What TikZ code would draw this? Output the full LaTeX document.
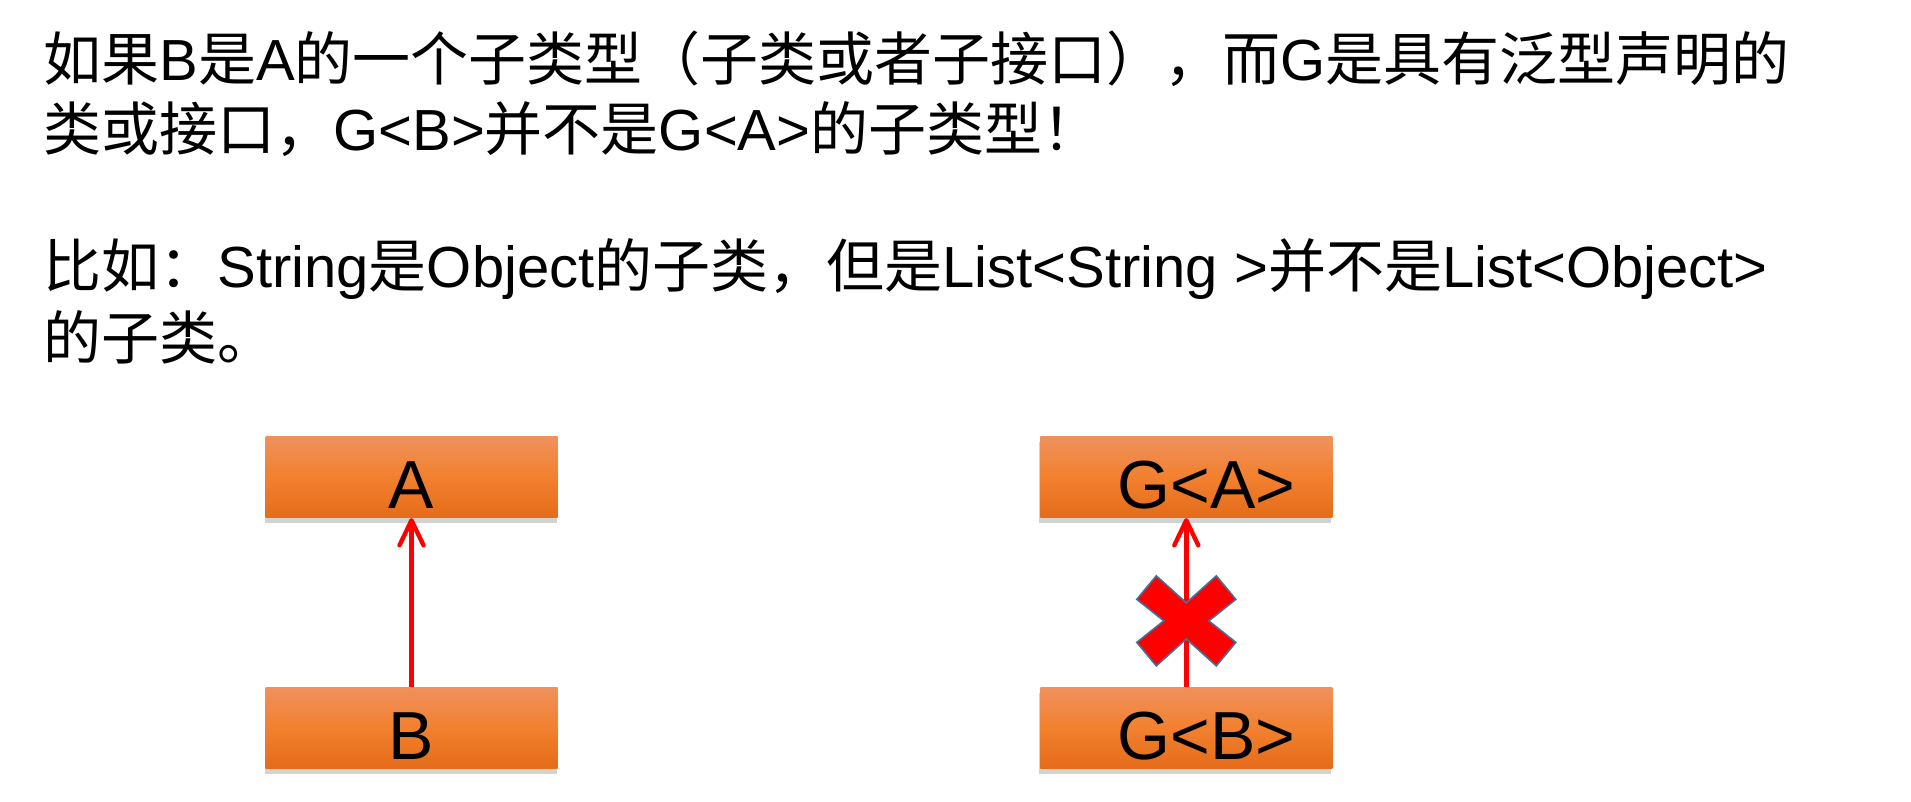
\documentclass[tikz,border=0pt]{standalone}
\usepackage{fontspec}
\usepackage{tikz}
\usetikzlibrary{arrows.meta, positioning, shadows, calc}
\setmainfont{Liberation Sans}
\newfontfamily\cjk{Noto Sans CJK SC}
\definecolor{boxtop}{RGB}{240, 145, 92}
\definecolor{boxmid}{RGB}{242, 128, 46}
\definecolor{boxbot}{RGB}{228, 108, 26}
\definecolor{linkred}{RGB}{255, 0, 0}
\definecolor{markedge}{RGB}{65, 113, 156}

\begin{document}
\begin{tikzpicture}[
    txt/.style={anchor=base west, inner sep=0pt, font=\fontsize{29pt}{34pt}\selectfont},
    classbox/.style={rectangle, top color=boxtop, bottom color=boxbot, middle color=boxmid, draw=none,
        minimum width=146pt, minimum height=40.5pt, inner xsep=0pt, inner ysep=0pt,
        text height=31.5pt, text depth=0pt, font=\fontsize{34pt}{38pt}\selectfont,
        drop shadow={shadow xshift=-0.5pt, shadow yshift=-2.5pt, opacity=0.25, fill=black!70}},
    link/.style={draw=linkred, line width=2.2pt, -{Straight Barb[length=12.5pt, width=12pt, round]}},
    nomark/.style={fill=linkred, draw=markedge, line width=0.8pt, line join=miter}
]
\useasboundingbox (0,0) rectangle (955.5pt,-401pt);

% text above
\node [txt] (line1) at (21.5pt,-40.5pt) {{\cjk 如果}B{\cjk 是}A{\cjk 的一个子类型（子类或者子接口），而}G{\cjk 是具有泛型声明的}};
\node [txt] (line2) at ([yshift=-35pt]line1.base west) {{\cjk 类或接口，}G<B>{\cjk 并不是}G<A>{\cjk 的子类型！}};
\node [txt] (line3) at ([yshift=-68pt]line2.base west) {{\cjk 比如：}String{\cjk 是}Object{\cjk 的子类，但是}List<String >{\cjk 并不是}List<Object>};
\node [txt] (line4) at ([yshift=-36pt]line3.base west) {{\cjk 的子类。}};

% boxes
\node [classbox] (a) at (205.75pt,-238.6pt) {A};
\node [classbox, below=84.5pt of a] (b) {B};
\node [classbox, right=241pt of a] (ga) {\hspace*{20pt}G<A>};
\node [classbox, below=84.5pt of ga] (gb) {\hspace*{20pt}G<B>};

\path [link] (b) -- (a);
\path [link] (gb) -- (ga);

% the cross
\coordinate (nope) at ($(ga.south)!0.608!(gb.north)$);
\draw [nomark, shift={(nope)}] (-24.75pt,10.75pt) -- (-15pt,22.5pt) -- (0pt,9pt) -- (15pt,22.5pt)
    -- (24.75pt,10.75pt) -- (11.25pt,0pt) -- (24.75pt,-10.75pt) -- (15pt,-22.5pt) -- (0pt,-9pt)
    -- (-15pt,-22.5pt) -- (-24.75pt,-10.75pt) -- (-11.25pt,0pt) -- cycle;

\end{tikzpicture}
\end{document}
